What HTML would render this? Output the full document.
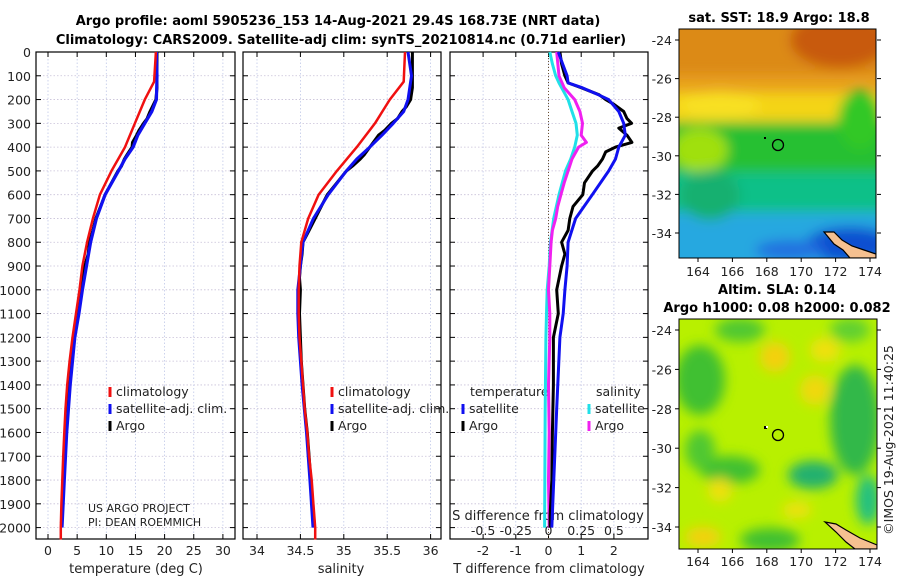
<!DOCTYPE html>
<html><head><meta charset="utf-8"><style>
body{margin:0;background:#fff;}
svg{display:block;font-family:"DejaVu Sans","Liberation Sans",sans-serif;}
</style></head><body>
<svg id="fig" width="900" height="580" viewBox="0 0 900 580" xmlns="http://www.w3.org/2000/svg">
<defs>
<filter id="blur" x="-20%" y="-20%" width="140%" height="140%"><feGaussianBlur stdDeviation="6"/></filter>
<clipPath id="clipMap1"><rect x="679" y="29" width="197" height="229"/></clipPath>
<clipPath id="clipMap2"><rect x="679" y="319" width="198" height="230"/></clipPath>
</defs>
<text x="338" y="25" font-size="13" font-weight="bold" text-anchor="middle">Argo profile: aoml 5905236_153 14-Aug-2021 29.4S 168.73E (NRT data)</text>
<text x="341" y="44" font-size="13" font-weight="bold" text-anchor="middle">Climatology: CARS2009. Satellite-adj clim: synTS_20210814.nc (0.71d earlier)</text>

<!-- map 1 -->
<g>
<text x="779" y="22" font-size="13" font-weight="bold" text-anchor="middle">sat. SST: 18.9 Argo: 18.8</text>
<g clip-path="url(#clipMap1)">
<rect x="679" y="29" width="197" height="229" fill="#e8a020"/>
<g filter="url(#blur)">
<rect x="660" y="10" width="240" height="65" fill="#dc8a18"/>
<ellipse cx="840" cy="40" rx="50" ry="28" fill="#c85a08"/>
<rect x="660" y="92" width="240" height="30" fill="#f4d418"/>
<ellipse cx="720" cy="105" rx="40" ry="14" fill="#f8e020"/>
<rect x="660" y="122" width="240" height="55" fill="#28c030"/>
<ellipse cx="700" cy="150" rx="28" ry="22" fill="#a0e010"/>
<ellipse cx="860" cy="120" rx="22" ry="30" fill="#30c828"/>
<rect x="660" y="172" width="240" height="43" fill="#10c088"/>
<rect x="660" y="212" width="240" height="60" fill="#28a8e0"/>
<ellipse cx="850" cy="245" rx="45" ry="18" fill="#1050d0"/>
<ellipse cx="790" cy="250" rx="35" ry="10" fill="#2070e0"/>
<ellipse cx="710" cy="195" rx="30" ry="25" fill="#18b070"/>
</g>
<path d="M824,232 L834,232 L842,240 L852,246 L864,250 L876,254 L876,258 L850,258 L843,250 L834,244 Z" fill="#f5c090" stroke="#000" stroke-width="1.2"/>
</g>
<rect x="679" y="29" width="197" height="229" fill="none" stroke="#000" stroke-width="1"/>
<circle cx="778" cy="145" r="5.5" fill="none" stroke="#000" stroke-width="1.3"/>
<rect x="764" y="137" width="2" height="2" fill="#000"/>
</g>

<!-- map 2 -->
<g>
<text x="777" y="294" font-size="13" font-weight="bold" text-anchor="middle">Altim. SLA: 0.14</text>
<text x="777" y="312" font-size="13" font-weight="bold" text-anchor="middle">Argo h1000: 0.08 h2000: 0.082</text>
<g clip-path="url(#clipMap2)">
<rect x="679" y="319" width="198" height="230" fill="#b8f000"/>
<g filter="url(#blur)">
<ellipse cx="700" cy="380" rx="25" ry="35" fill="#40c030"/>
<ellipse cx="740" cy="330" rx="25" ry="12" fill="#50c830"/>
<ellipse cx="850" cy="330" rx="20" ry="12" fill="#60d030"/>
<ellipse cx="855" cy="420" rx="25" ry="55" fill="#30b848"/>
<ellipse cx="868" cy="500" rx="12" ry="25" fill="#20c080"/>
<ellipse cx="813" cy="475" rx="25" ry="14" fill="#20b070"/>
<ellipse cx="730" cy="470" rx="30" ry="14" fill="#40c030"/>
<ellipse cx="700" cy="450" rx="15" ry="20" fill="#50c830"/>
<ellipse cx="770" cy="540" rx="30" ry="12" fill="#40c030"/>
<ellipse cx="775" cy="357" rx="15" ry="15" fill="#f4d010"/>
<ellipse cx="825" cy="350" rx="15" ry="12" fill="#f0e010"/>
<ellipse cx="815" cy="390" rx="15" ry="15" fill="#f0d810"/>
<ellipse cx="720" cy="490" rx="12" ry="12" fill="#f0e010"/>
<ellipse cx="703" cy="537" rx="18" ry="10" fill="#f4d010"/>
<ellipse cx="797" cy="510" rx="15" ry="8" fill="#f0e010"/>
</g>
<path d="M825,522 L836,524 L846,530 L860,538 L877,545 L877,549 L855,549 L846,542 L836,532 Z" fill="#f5c090" stroke="#000" stroke-width="1.2"/>
</g>
<rect x="679" y="319" width="198" height="230" fill="none" stroke="#000" stroke-width="1"/>
<circle cx="778" cy="435" r="5.5" fill="none" stroke="#000" stroke-width="1.3"/>
<rect x="764" y="426" width="3" height="3" fill="#000"/><rect x="766" y="426" width="2" height="2" fill="#fff"/>
</g>
<text transform="translate(893,440) rotate(-90)" font-size="12.5" text-anchor="middle" fill="#222">©IMOS 19-Aug-2021 11:40:25</text>

<g id="axes"></g>
<g id="series"></g>
</svg>
<script>
// ---- data ----
const depthTicks = [0,100,200,300,400,500,600,700,800,900,1000,1100,1200,1300,1400,1500,1600,1700,1800,1900,2000];
const tempTicks = [0,5,10,15,20,25,30];
const salTicks = [34,34.5,35,35.5,36];
const salTickLabels = ["34","34.5","35","35.5","36"];
const tdiffTicks = [-2,-1,0,1,2];
const sdiffTicks = [-0.5,-0.25,0,0.25,0.5];
const sdiffTickLabels = ["-0.5","-0.25","0","0.25","0.5"];

const climDepth = [0,125,200,300,400,500,600,700,800,900,1000,1100,1200,1300,1400,1500,1600,1700,1800,1900,2000,2050];
const climTemp = [18.5,18.2,16.6,14.9,13.2,10.9,8.9,7.7,6.7,5.9,5.4,4.8,4.2,3.7,3.3,3.0,2.8,2.6,2.45,2.3,2.2,2.2];
const climSal = [35.705,35.69,35.53,35.36,35.15,34.92,34.71,34.59,34.51,34.49,34.48,34.48,34.49,34.51,34.53,34.55,34.58,34.60,34.63,34.65,34.67,34.67];

const satDepth = [0,100,200,250,300,350,400,450,500,600,700,800,900,1000,1100,1200,1400,1600,1800,2000];
const satTemp = [18.6,18.7,18.6,17.8,16.6,15.4,14.6,13.2,12.1,9.8,8.3,7.3,6.6,5.9,5.3,4.6,3.8,3.2,2.8,2.4];
const satSal = [35.74,35.78,35.74,35.69,35.57,35.44,35.30,35.15,35.03,34.82,34.65,34.53,34.50,34.47,34.47,34.48,34.52,34.57,34.61,34.645];

const argoDepth = [0,50,100,150,200,230,250,280,300,330,350,380,400,430,450,480,500,550,600,650,700,750,800,850,900,950,1000,1100,1200,1300,1400,1500,1600,1700,1800,1900,1980];
const argoTemp = [18.7,18.7,18.7,18.7,18.5,17.9,17.5,17.0,16.4,15.6,15.2,14.5,14.4,13.6,13.1,12.6,12.0,10.9,9.8,9.0,8.2,7.7,7.1,6.9,6.3,6.0,5.7,5.1,4.3,3.9,3.6,3.2,3.0,2.8,2.6,2.5,2.3];
const argoSal = [35.79,35.79,35.79,35.79,35.77,35.72,35.67,35.62,35.55,35.47,35.40,35.34,35.30,35.24,35.19,35.10,35.03,34.92,34.81,34.74,34.67,34.60,34.53,34.52,34.50,34.49,34.50,34.49,34.50,34.51,34.53,34.55,34.58,34.60,34.62,34.64,34.66];

const dSatDepth = [0,50,100,130,150,180,200,250,300,350,400,450,500,600,700,800,900,1000,1100,1200,1500,2000];
const dSatT = [0.3,0.43,0.57,0.6,1.03,1.53,1.84,2.15,2.3,2.35,2.15,2.05,1.84,1.34,0.83,0.6,0.57,0.5,0.45,0.35,0.25,0.1];
const dArgoDepth = [0,50,100,130,150,180,200,220,250,280,300,320,350,380,400,420,450,480,500,550,600,650,700,750,800,850,900,1000,1100,1200,1400,1600,1800,1950,2000];
const dArgoT = [0.35,0.4,0.5,0.6,1.0,1.55,1.75,2.0,2.3,2.4,2.54,2.15,2.4,2.55,2.05,1.75,1.65,1.5,1.35,1.1,1.05,0.75,0.65,0.6,0.4,0.5,0.4,0.25,0.3,0.15,0.15,0.12,0.1,0.05,0.05];
const dSatS = [0.01,0.03,0.055,0.08,0.1,0.13,0.15,0.18,0.21,0.22,0.2,0.17,0.13,0.08,0.04,0.015,0.005,-0.01,-0.015,-0.02,-0.025,-0.03];
const dArgoSDepth = [0,100,150,200,250,300,350,380,400,450,500,550,600,650,700,750,800,900,1000,1100,1200,1400,1600,1800,2000];
const dArgoS = [0.063,0.08,0.12,0.2,0.24,0.26,0.25,0.29,0.23,0.18,0.15,0.12,0.095,0.07,0.055,0.03,0.02,0.01,0.0,0.01,0.01,0.0,0.005,0.0,0.005];

// ---- scales ----
const TOP=52, BOT=539;
const yD = d => TOP + 0.2378*d;
const xT = t => 48 + 5.83*t;
const xS = s => 257 + 86.8*(s-34);
const xDT = d => 548.5 + 32.7*d;
const xDS = s => 548.5 + 130.8*s;
const panels = [{x0:36,x1:235,name:'temperature-panel'},{x0:243,x1:441,name:'salinity-panel'},{x0:450,x1:648,name:'difference-panel'}];

const NS='http://www.w3.org/2000/svg';
const axes=document.getElementById('axes'), series=document.getElementById('series');
function mk(tag, attrs, parent){const e=document.createElementNS(NS,tag);for(const k in attrs)e.setAttribute(k,attrs[k]);parent.appendChild(e);return e;}
function txt(x,y,s,size,anchor,parent){const e=mk('text',{x:x,y:y,'font-size':size,'text-anchor':anchor,fill:'#222'},parent);e.textContent=s;return e;}

panels.forEach((p,i)=>{
  const g=mk('g',{},axes);
  
  
  depthTicks.forEach(d=>{
    mk('line',{x1:p.x0,x2:p.x1,y1:yD(d),y2:yD(d),stroke:'#c8c0d8','stroke-width':0.8,'stroke-dasharray':'1.5,2'},g);
    mk('line',{x1:p.x0,x2:p.x0+5,y1:yD(d),y2:yD(d),stroke:'#000','stroke-width':1},g);
    mk('line',{x1:p.x1-5,x2:p.x1,y1:yD(d),y2:yD(d),stroke:'#000','stroke-width':1},g);
  });
  let xt=[], xf, labs;
  if(i===0){xt=tempTicks;xf=xT;labs=tempTicks.map(String);}
  if(i===1){xt=salTicks;xf=xS;labs=salTickLabels;}
  if(i===2){xt=tdiffTicks;xf=xDT;labs=tdiffTicks.map(String);}
  xt.forEach((v,k)=>{
    const x=xf(v);
    mk('line',{x1:x,x2:x,y1:TOP,y2:BOT,stroke:'#c0c8e8','stroke-width':0.8,'stroke-dasharray':'1.5,2'},g);
    mk('line',{x1:x,x2:x,y1:BOT-5,y2:BOT,stroke:'#000','stroke-width':1},g);
    mk('line',{x1:x,x2:x,y1:TOP,y2:TOP+5,stroke:'#000','stroke-width':1},g);
    const t=txt(x,555,labs[k],12.5,'middle',g);
    
    
  });
  mk('rect',{x:p.x0,y:TOP,width:p.x1-p.x0,height:BOT-TOP,fill:'none',stroke:'#000','stroke-width':1.2},g);
});
depthTicks.forEach(d=>{
  const t=txt(31,yD(d)+5,String(d),12.5,'end',axes);
  
  
});
let at=txt(136,573,'temperature (deg C)',13,'middle',axes);

at=txt(341,573,'salinity',13,'middle',axes);

at=txt(549,573,'T difference from climatology',13,'middle',axes);

mk('line',{x1:xDT(0),x2:xDT(0),y1:TOP,y2:BOT,stroke:'#6a5030','stroke-width':1,'stroke-dasharray':'1,2'},axes);

function line(depths, vals, xf, color, w, name){
  const pts=depths.map((d,k)=>xf(vals[k]).toFixed(1)+','+yD(d).toFixed(1)).join(' ');
  const e=mk('polyline',{points:pts,fill:'none',stroke:color,'stroke-width':w,'stroke-linejoin':'round'},series);
  
  
}
line(argoDepth,argoTemp,xT,'#000',3,'argo-temperature-line');
line(satDepth,satTemp,xT,'#1010f0',3.2,'satellite-temperature-line');
line(climDepth,climTemp,xT,'#f01010',2.5,'climatology-temperature-line');
line(argoDepth,argoSal,xS,'#000',3,'argo-salinity-line');
line(satDepth,satSal,xS,'#1010f0',3,'satellite-salinity-line');
line(climDepth,climSal,xS,'#f01010',2.5,'climatology-salinity-line');
line(dSatDepth,dSatS,xDS,'#20e0e8',3,'satellite-salinity-diff-line');
line(dArgoSDepth,dArgoS,xDS,'#f020f0',3,'argo-salinity-diff-line');
line(dArgoDepth,dArgoT,xDT,'#000',3,'argo-temperature-diff-line');
line(dSatDepth,dSatT,xDT,'#1010f0',3,'satellite-temperature-diff-line');

let sl=txt(548,520,'S difference from climatology',13,'middle',axes);

sdiffTicks.forEach((v,k)=>{
  const t=txt(xDS(v),535,sdiffTickLabels[k],12.5,'middle',axes);
  
  
});

function legend(x,y,color,label){
  const g=mk('g',{},axes);
  
  
  mk('line',{x1:x,x2:x,y1:y-9,y2:y+1,stroke:color,'stroke-width':3},g);
  txt(x+6,y,label,12.5,'start',g);
}
legend(110,396,'#f01010','climatology');
legend(110,413,'#1010f0','satellite-adj. clim.');
legend(110,430,'#000','Argo');
legend(332,396,'#f01010','climatology');
legend(332,413,'#1010f0','satellite-adj. clim.');
legend(332,430,'#000','Argo');
let lt=txt(470,396,'temperature',12.5,'start',axes);

legend(463,413,'#1010f0','satellite');
legend(463,430,'#000','Argo');
lt=txt(596,396,'salinity',12.5,'start',axes);

legend(589,413,'#20e0e8','satellite');
legend(589,430,'#f020f0','Argo');

let c1=txt(88,512,'US ARGO PROJECT',11,'start',axes);

c1=txt(88,526,'PI: DEAN ROEMMICH',11,'start',axes);


const lonTicks=[164,166,168,170,172,174];
const latTicks=[-24,-26,-28,-30,-32,-34];
const lonX = lo => 698 + 17.2*(lo-164);
[{y0:29,y1:258,latY:la=>40+19.3*(-24-la),lab:276,name:'sst-map-axes'},{y0:319,y1:549,latY:la=>330+19.7*(-24-la),lab:566,name:'sla-map-axes'}].forEach(m=>{
  const g=mk('g',{},axes);
  
  
  lonTicks.forEach(lo=>{
    const x=lonX(lo);
    mk('line',{x1:x,x2:x,y1:m.y1,y2:m.y1+4,stroke:'#000'},g);
    txt(x,m.lab,String(lo),12.5,'middle',g);
  });
  latTicks.forEach(la=>{
    const y=m.latY(la);
    mk('line',{x1:675,x2:679,y1:y,y2:y,stroke:'#000'},g);
    mk('line',{x1:877,x2:881,y1:y,y2:y,stroke:'#000'},g);
    txt(672,y+5,String(la),12.5,'end',g);
  });
});
</script>
</body></html>
